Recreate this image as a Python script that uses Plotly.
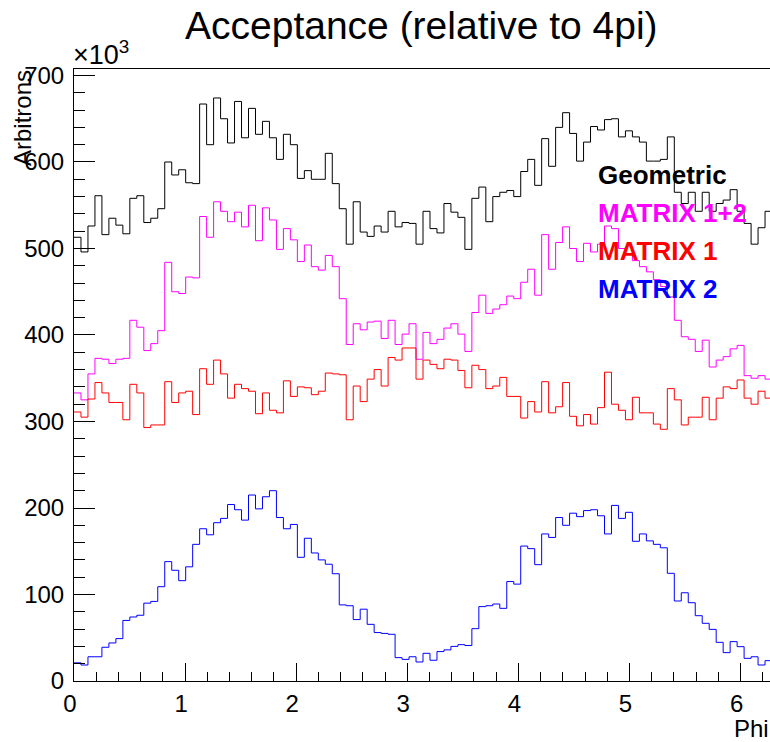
import numpy as np
import plotly.graph_objects as go

# Histogram binning: 100 bins over [0, 2*pi]
NBINS = 100
PHI_MIN, PHI_MAX = 0.0, 2 * np.pi

# Bin contents (units of 10^3)
geometric = [
    513, 496, 526, 561, 516, 535, 527, 517, 558, 561,
    530, 535, 546, 600, 585, 591, 576, 575, 667, 620,
    674, 650, 622, 670, 628, 662, 632, 647, 628, 603,
    632, 620, 581, 590, 580, 580, 610, 575, 546, 505,
    554, 519, 514, 526, 519, 543, 525, 530, 529, 505,
    543, 523, 518, 552, 542, 536, 499, 558, 571, 531,
    560, 565, 567, 560, 589, 603, 573, 627, 595, 640,
    657, 633, 601, 623, 641, 637, 649, 650, 629, 636,
    629, 623, 601, 601, 603, 629, 565, 552, 565, 543,
    565, 543, 552, 556, 568, 543, 529, 505, 524, 543,
]
matrix_12 = [
    333, 325, 355, 373, 372, 367, 372, 373, 417, 409,
    382, 390, 405, 484, 450, 448, 467, 466, 537, 513,
    554, 543, 531, 542, 525, 550, 509, 547, 533, 499,
    523, 510, 485, 504, 479, 475, 492, 479, 442, 389,
    413, 406, 415, 416, 396, 417, 389, 401, 413, 372,
    403, 390, 395, 408, 413, 401, 381, 426, 446, 425,
    430, 435, 445, 442, 461, 476, 446, 516, 476, 507,
    525, 500, 485, 506, 496, 505, 526, 523, 500, 494,
    486, 479, 473, 464, 456, 444, 417, 398, 395, 381,
    394, 363, 371, 375, 384, 388, 353, 350, 353, 349,
]
matrix_1 = [
    311, 305, 326, 345, 333, 322, 322, 302, 343, 333,
    293, 296, 296, 346, 322, 333, 335, 308, 361, 343,
    371, 355, 327, 343, 338, 335, 309, 333, 313, 310,
    347, 329, 340, 339, 331, 335, 356, 355, 354, 302,
    341, 323, 349, 360, 341, 374, 371, 385, 385, 349,
    371, 366, 361, 372, 371, 359, 339, 365, 360, 338,
    341, 351, 329, 329, 304, 323, 311, 346, 310, 317,
    345, 306, 295, 308, 297, 316, 357, 320, 313, 302,
    328, 310, 310, 297, 291, 338, 325, 296, 305, 305,
    328, 302, 327, 340, 338, 348, 327, 320, 335, 327,
]
matrix_2 = [
    21, 18.5, 28, 28, 39, 44, 49, 70, 74, 76,
    90, 92, 109, 138, 128, 116, 132, 158, 176, 169,
    183, 188, 204, 198, 186, 215, 199, 213, 220, 189,
    176, 181, 143, 165, 148, 140, 135, 124, 88, 87,
    71, 83, 65.5, 56, 55, 54, 27, 25, 28, 22,
    32, 24, 34, 36, 40, 42, 41, 60.5, 86, 87,
    89, 84, 115, 112, 156, 153, 134.5, 170, 166, 189,
    180, 194, 190, 197, 198, 191, 170, 203, 188, 195,
    161.5, 170, 162, 158, 154, 124.5, 92.5, 102, 90.5, 75.5,
    66.7, 59.7, 44.7, 32.8, 45.5, 39.7, 26.2, 28, 18.5, 23.5,
]

series = [
    ("Geometric", geometric, "#000000"),
    ("MATRIX 1+2", matrix_12, "#ff00ff"),
    ("MATRIX 1", matrix_1, "#ff0000"),
    ("MATRIX 2", matrix_2, "#0000ff"),
]

edges = np.linspace(PHI_MIN, PHI_MAX, NBINS + 1)

W, H = 770, 742
L, R, T, B = 74, 0, 69, 61
PW, PH = W - L - R, H - T - B
FONT = "Liberation Sans, Arial, Helvetica, sans-serif"


def px_x(p):
    return (p - L) / PW


def px_y(p):
    return (H - B - p) / PH


fig = go.Figure()
for name, vals, color in series:
    # step outline: each bin drawn flat from its left to its right edge
    ys = list(vals) + [vals[-1]]
    fig.add_trace(go.Scatter(
        x=edges, y=ys, mode="lines", name=name,
        line=dict(color=color, width=1, shape="hv"),
        hoverinfo="skip", showlegend=False,
    ))

annotations = [
    dict(text="Acceptance (relative to 4pi)", x=px_x(421), y=px_y(2),
         xanchor="center", yanchor="top",
         font=dict(size=39, color="black", family=FONT)),
    dict(text="\u00d710<sup>3</sup>", x=px_x(71), y=px_y(53),
         xanchor="left", yanchor="middle",
         font=dict(size=27, color="black", family=FONT)),
    dict(text="Arbitrons", x=px_x(22), y=px_y(68), textangle=-90,
         xanchor="center", yanchor="top",
         font=dict(size=24, color="black", family=FONT)),
    dict(text="Phi", x=px_x(771), y=px_y(728),
         xanchor="right", yanchor="middle",
         font=dict(size=24, color="black", family=FONT)),
]
legend_y = [175, 213, 251, 289]
for (name, _, color), yy in zip(series, legend_y):
    annotations.append(dict(
        text="<b>%s</b>" % name, x=px_x(596), y=px_y(yy),
        xanchor="left", yanchor="middle",
        font=dict(size=26, color=color, family=FONT),
    ))
for a in annotations:
    a.update(xref="paper", yref="paper", showarrow=False)

fig.update_layout(
    width=W, height=H,
    margin=dict(l=L, r=R, t=T, b=B, pad=0),
    paper_bgcolor="white", plot_bgcolor="white",
    font=dict(family=FONT, color="black"),
    annotations=annotations,
    xaxis=dict(
        range=[0, 6.265], tick0=0, dtick=1, ticks="inside", ticklen=18,
        tickwidth=1, tickcolor="black",
        minor=dict(ticks="inside", ticklen=9, dtick=0.2, tickwidth=1,
                   tickcolor="black", showgrid=False),
        showline=True, linecolor="black", linewidth=1, mirror=True,
        showgrid=False, zeroline=False,
        tickfont=dict(size=24, color="black", family=FONT),
        ticklabelshift=-4, ticklabelstandoff=1,
    ),
    yaxis=dict(
        range=[0, 707.5], tick0=0, dtick=100, ticks="inside", ticklen=21,
        tickwidth=1, tickcolor="black",
        minor=dict(ticks="inside", ticklen=11, dtick=20, tickwidth=1,
                   tickcolor="black", showgrid=False),
        showline=True, linecolor="black", linewidth=1, mirror=True,
        showgrid=False, zeroline=False,
        tickfont=dict(size=24, color="black", family=FONT),
        ticklabelstandoff=4,
    ),
)

fig.write_html("out.html")
